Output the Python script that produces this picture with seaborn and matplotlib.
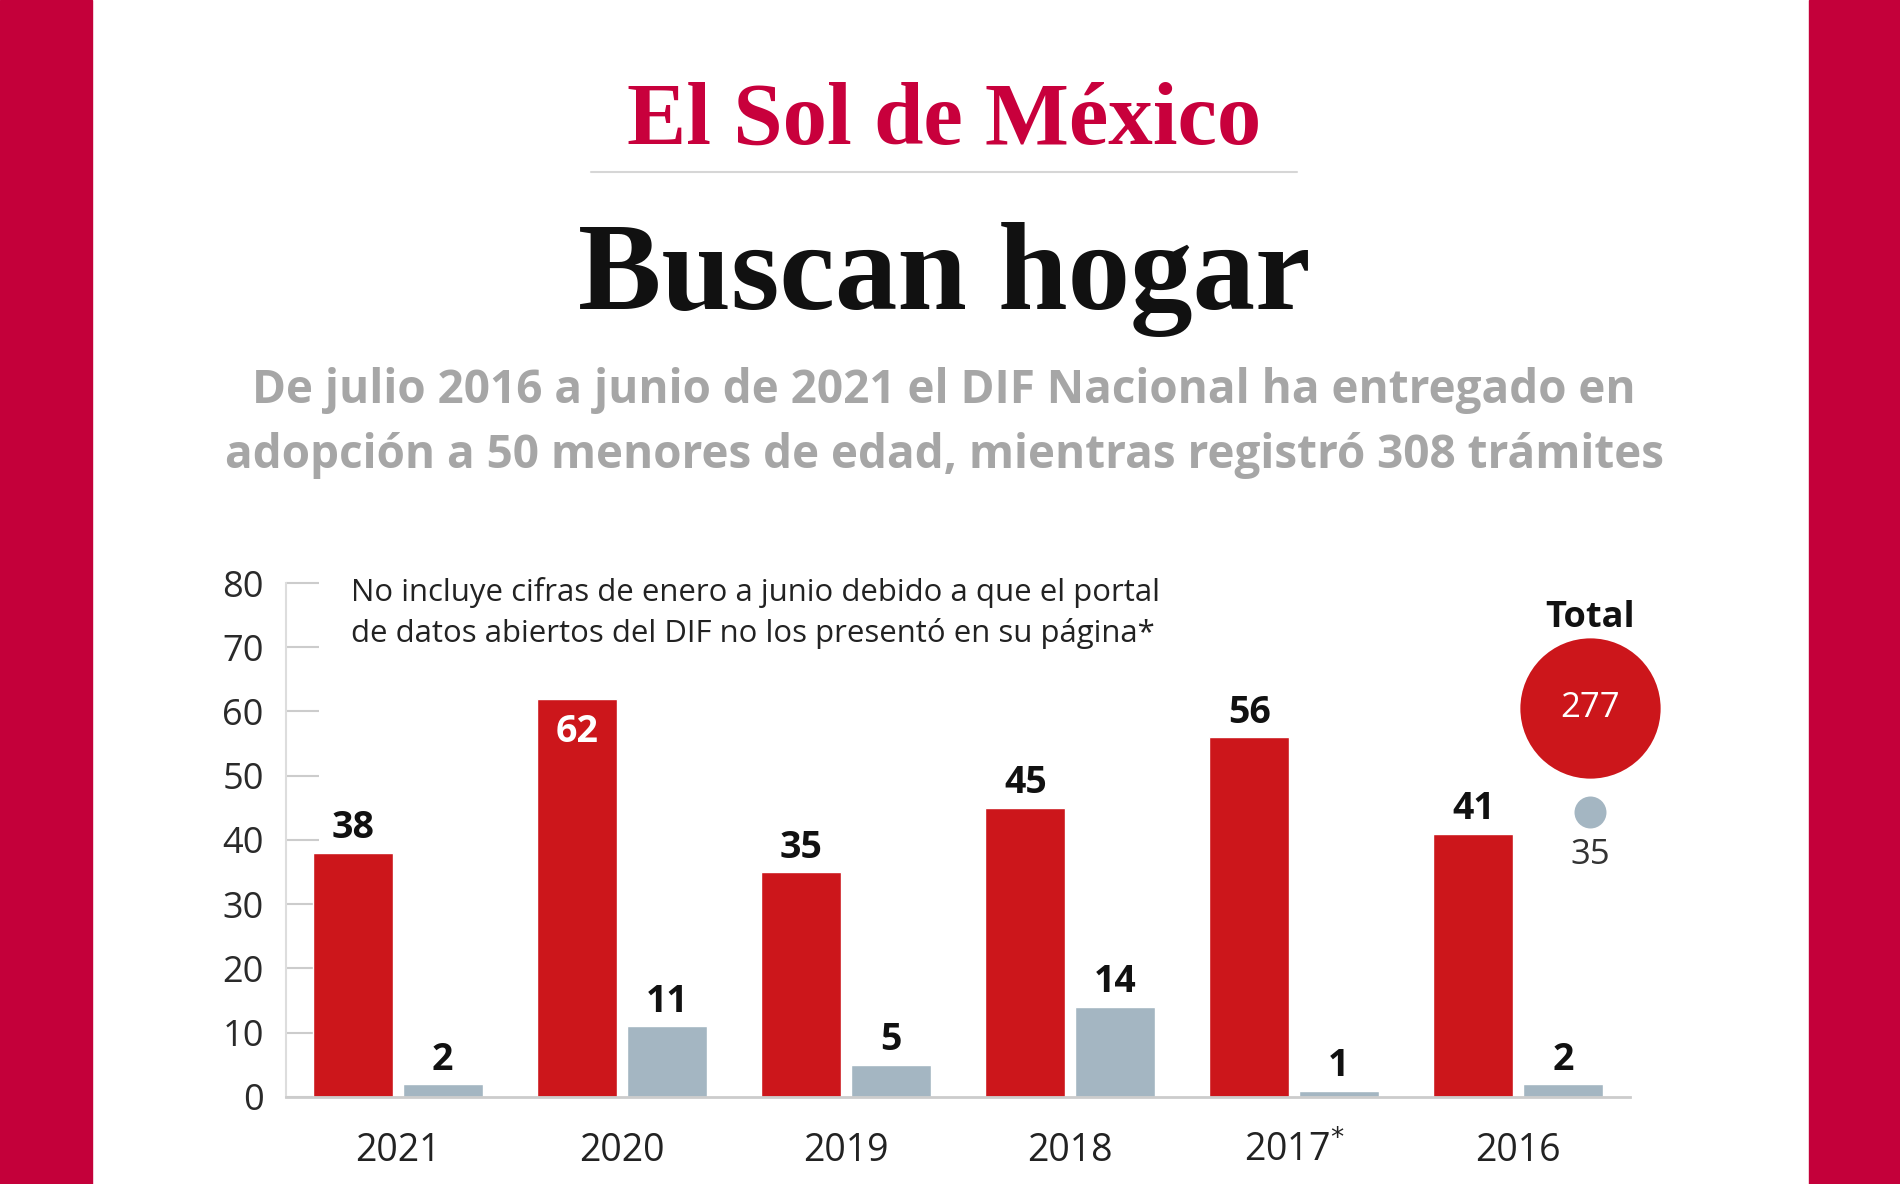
import matplotlib
matplotlib.use("Agg")
import pandas as pd
import matplotlib.pyplot as plt
from matplotlib.patches import Rectangle
from matplotlib.lines import Line2D
import seaborn as sns

# datos
years = ["2021", "2020", "2019", "2018", "2017*", "2016"]
tramites = [38, 62, 35, 45, 56, 41]
adopciones = [2, 11, 5, 14, 1, 2]
yticks = [0, 10, 20, 30, 40, 50, 60, 70, 80]

RED = "#cc161b"
GRAY = "#a4b6c2"
BAND = "#c4003a"

df = pd.DataFrame({"year": years * 2,
                   "tipo": ["Trámites"] * len(years) + ["Adopciones"] * len(years),
                   "valor": tramites + adopciones})

sns.set_theme(style="white")
plt.rcParams['font.family'] = ['Open Sans', 'DejaVu Sans']

fig = plt.figure(figsize=(19, 11.84), dpi=100)
fig.patch.set_facecolor("white")

# bandas rojas laterales
fig.patches.append(Rectangle((0, 0), 0.0484, 1, transform=fig.transFigure, color=BAND, zorder=0))
fig.patches.append(Rectangle((0.952, 0), 0.048, 1, transform=fig.transFigure, color=BAND, zorder=0))

# encabezado
fig.text(0.497, 0.879, "El Sol de México", family="Liberation Serif", fontweight="bold",
         fontsize=64, color="#c8003c", ha="center", va="baseline")
fig.add_artist(Line2D([591 / 1900, 1297 / 1900], [1 - 172 / 1184] * 2, color="#d6d6d6", lw=1.5))
fig.text(0.497, 0.739, "Buscan hogar", family="Liberation Serif", fontweight="bold",
         fontsize=90, color="#111111", ha="center", va="baseline")
fig.text(0.497, 0.660, "De julio 2016 a junio de 2021 el DIF Nacional ha entregado en",
         fontsize=33, fontweight="bold", color="#a6a6a6", ha="center", va="baseline")
fig.text(0.497, 0.605, "adopción a 50 menores de edad, mientras registró 308 trámites",
         fontsize=33, fontweight="bold", color="#a6a6a6", ha="center", va="baseline")

ax = fig.add_axes([0.1505, 0.0735, 0.7075, 0.4341])
sns.barplot(data=df, x="year", y="valor", hue="tipo", palette=[RED, GRAY],
            width=0.8, gap=0.107, saturation=1, legend=False, ax=ax)

ax.set_xlim(-0.5, len(years) - 0.5)
ax.set_ylim(0, 80)
ax.set_yticks(yticks)
ax.set_axisbelow(True)
ax.tick_params(axis="y", left=True, direction="in", length=24, width=1.5, color="#cccccc",
               pad=16, labelsize=26, labelcolor="#2a2a2a")
ax.tick_params(axis="x", bottom=False, length=0, pad=25, labelsize=27, labelcolor="#222222")
# asterisco en superíndice como en el original
ax.set_xticks(range(len(years)))
ax.set_xticklabels([y.replace("*", r"$^{*}$") for y in years])
ax.set_xlabel("")
ax.set_ylabel("")
for s in ["top", "right"]:
    ax.spines[s].set_visible(False)
ax.spines["left"].set_color("#dddddd")
ax.spines["left"].set_linewidth(1.5)
ax.spines["bottom"].set_color("#cccccc")
ax.spines["bottom"].set_linewidth(2)

# etiquetas de valores
top = max(tramites)
for cont, vals in zip(ax.containers, [tramites, adopciones]):
    for bar, v in zip(cont, vals):
        cx = bar.get_x() + bar.get_width() / 2
        if v == top and vals is tramites:
            ax.annotate(str(v), (cx, v), xytext=(0, -10), textcoords="offset points",
                        ha="center", va="top", fontsize=27, fontweight="bold", color="white")
        else:
            ax.annotate(str(v), (cx, v), xytext=(0, 4), textcoords="offset points",
                        ha="center", va="bottom", fontsize=27, fontweight="bold", color="#111111")

# nota
ax.text(-0.21, 75.3, "No incluye cifras de enero a junio debido a que el portal\n"
        "de datos abiertos del DIF no los presentó en su página*",
        fontsize=22.4, color="#222222", ha="left", va="center", linespacing=1.4)

# totales
tx = 5.32
ax.scatter([tx], [60.5], s=10200, color=RED, clip_on=False, zorder=3, linewidths=0)
ax.text(tx, 60.5, str(sum(tramites)), fontsize=25, color="white", ha="center", va="center", zorder=4)
ax.text(tx, 74.5, "Total", fontsize=26, fontweight="bold", color="#111111", ha="center", va="center")
ax.scatter([tx], [44.4], s=530, color=GRAY, clip_on=False, zorder=3, linewidths=0)
ax.text(tx, 37.6, str(sum(adopciones)), fontsize=25, color="#333333", ha="center", va="center")

fig.savefig("out.png", dpi=100)
